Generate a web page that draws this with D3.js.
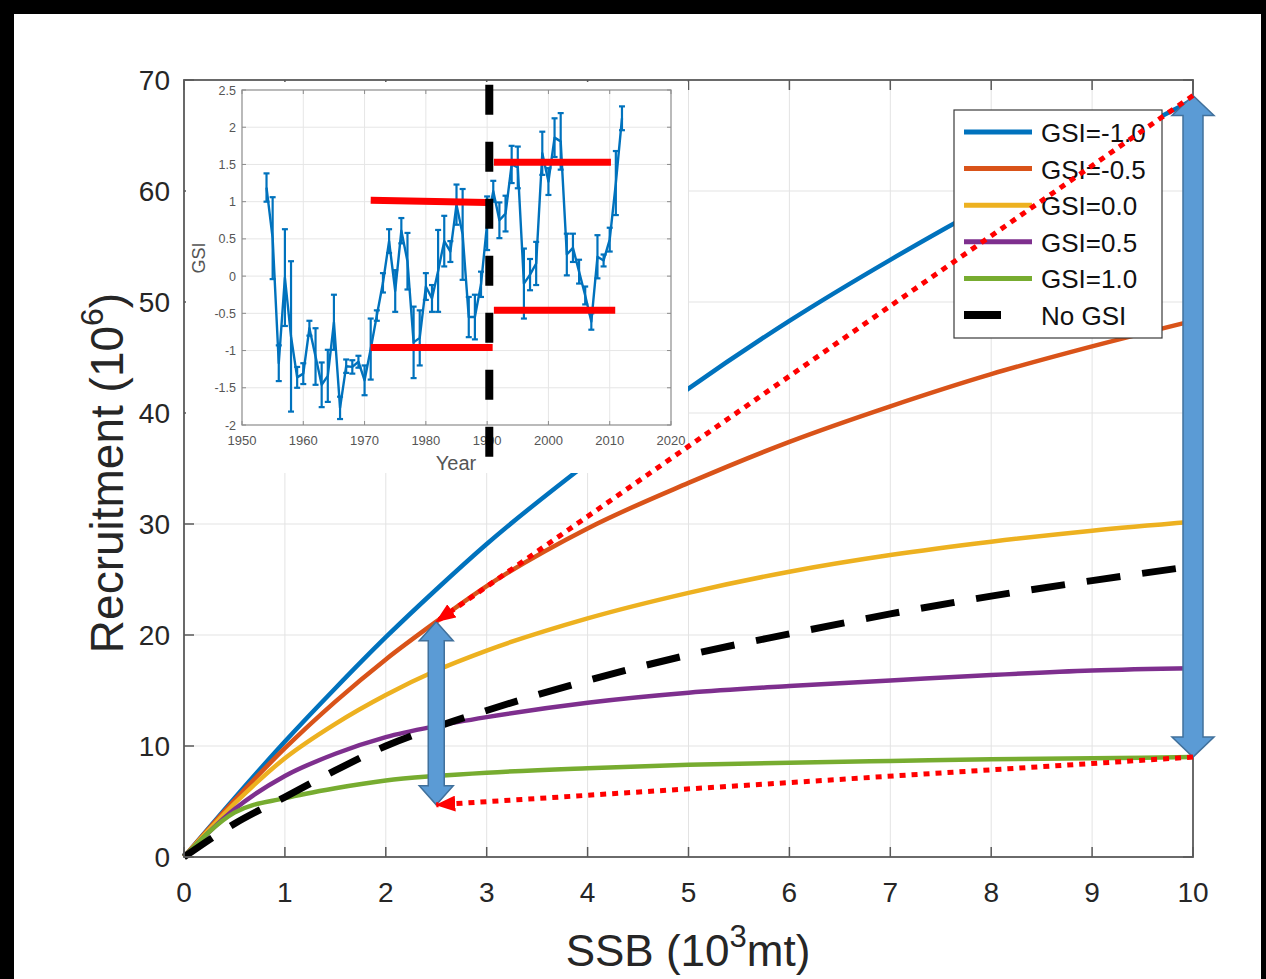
<!DOCTYPE html>
<html>
<head>
<meta charset="utf-8">
<script src="https://cdn.jsdelivr.net/npm/d3@7"></script>
<style>
  body { margin: 0; background: #000; }
  svg { display: block; font-family: "Liberation Sans", Arial, sans-serif; }
</style>
</head>
<body>
<svg id="chart" width="1266" height="979"></svg>
<script>
// main chart: recruitment vs SSB for each GSI level
const ssb = [0, 0.5, 1, 1.5, 2, 2.5, 3, 4, 5, 6, 7, 8, 9, 10];
const gsiM10 = [0, 5.3, 10.4, 15.2, 19.8, 24.1, 28.2, 35.5, 42.2, 48.3, 53.8, 58.9, 63.5, 68.2];
const gsiM05 = [0, 5.1, 9.8, 14.0, 17.8, 21.2, 24.4, 29.6, 33.7, 37.4, 40.6, 43.5, 46.0, 48.3];
const gsi00 = [0, 4.8, 8.9, 12.0, 14.6, 16.8, 18.6, 21.5, 23.8, 25.7, 27.2, 28.4, 29.4, 30.2];
const gsiP05 = [0, 4.3, 7.3, 9.3, 10.8, 11.8, 12.6, 13.9, 14.8, 15.4, 15.9, 16.4, 16.8, 17.0];
const gsiP10 = [0, 4.0, 5.3, 6.2, 6.9, 7.3, 7.6, 8.0, 8.3, 8.5, 8.65, 8.8, 8.9, 9.0];
const noGsi = [0, 3.0, 5.4, 7.8, 10.0, 11.7, 13.2, 15.9, 18.2, 20.1, 21.9, 23.5, 24.9, 26.2];

const seriesNames = ["GSI=-1.0", "GSI=-0.5", "GSI=0.0", "GSI=0.5", "GSI=1.0", "No GSI"];
const seriesColors = ["#0072BD", "#D95319", "#EDB120", "#7E2F8E", "#77AC30", "#000000"];
const seriesValues = [gsiM10, gsiM05, gsi00, gsiP05, gsiP10, noGsi];

const xTicks = [0, 1, 2, 3, 4, 5, 6, 7, 8, 9, 10];
const yTicks = [0, 10, 20, 30, 40, 50, 60, 70];

// inset: GSI time series with error bars
const gsiYears = d3.range(1954, 2013);
const gsiMean = [1.19, 0.51, -1.17, -0.02, -0.81, -1.36, -1.31, -0.70, -1.08, -1.46,
  -1.34, -0.62, -1.77, -1.21, -1.22, -1.15, -1.40, -0.98, -0.53, -0.09,
  0.47, -0.20, 0.61, 0.20, -0.89, -0.83, -0.14, -0.30, 0.07, 0.47,
  0.33, 0.96, 0.56, -0.55, -0.55, -0.11, 0.71, 1.14, 0.75, 0.84,
  1.50, 1.46, -0.10, 0.02, 0.17, 1.65, 1.27, 1.86, 1.81, 0.29,
  0.38, 0.06, -0.26, -0.61, 0.26, 0.21, 0.49, 1.25, 2.12];
const gsiErr = [0.19, 0.55, 0.24, 0.65, 1.01, 0.14, 0.14, 0.10, 0.38, 0.30,
  0.35, 0.37, 0.15, 0.09, 0.09, 0.08, 0.20, 0.41, 0.07, 0.13,
  0.16, 0.28, 0.17, 0.38, 0.48, 0.37, 0.18, 0.18, 0.55, 0.34,
  0.14, 0.27, 0.61, 0.27, 0.30, 0.17, 0.36, 0.14, 0.24, 0.24,
  0.25, 0.28, 0.47, 0.21, 0.29, 0.29, 0.18, 0.26, 0.38, 0.28,
  0.19, 0.16, 0.12, 0.11, 0.29, 0.08, 0.16, 0.43, 0.16];
const yearTicks = [1950, 1960, 1970, 1980, 1990, 2000, 2010, 2020];
const gsiTicks = [-2, -1.5, -1, -0.5, 0, 0.5, 1, 1.5, 2, 2.5];

// regime means drawn in red on the inset
const regimeLines = [
  { x0: 1971, x1: 1990, v0: 1.02, v1: 0.99 },
  { x0: 1971, x1: 1990.9, v0: -0.96, v1: -0.96 },
  { x0: 1991.1, x1: 2010.2, v0: 1.53, v1: 1.53 },
  { x0: 1991.1, x1: 2010.9, v0: -0.46, v1: -0.46 }
];
const regimeBreak = { year: 1990.35, top: 2.57, bottom: -2.6 };

// annotation arrows, in SSB / recruitment units
const rangeArrows = [
  { s: 2.5, top: 21.2, bottom: 4.7 },
  { s: 10, top: 68.6, bottom: 9.0 }
];
const redArrows = [
  { s0: 10, r0: 68.6, s1: 2.5, r1: 21.2 },
  { s0: 10, r0: 9.0, s1: 2.5, r1: 4.7 }
];

const svg = d3.select("#chart");

/* frame: black band on top, left and right */
svg.append("rect").attr("width", 1266).attr("height", 979).attr("fill", "#000");
svg.append("rect").attr("x", 14).attr("y", 14).attr("width", 1247).attr("height", 965).attr("fill", "#fff");

const x = d3.scaleLinear().domain([0, 10]).range([184, 1193]);
const y = d3.scaleLinear().domain([0, 70]).range([857, 80]);

/* grid */
const grid = svg.append("g").attr("stroke", "#e3e3e3").attr("stroke-width", 1);
grid.selectAll(".gx").data(xTicks.slice(1, -1)).enter().append("line")
  .attr("x1", d => x(d)).attr("x2", d => x(d)).attr("y1", y(0)).attr("y2", y(70));
grid.selectAll(".gy").data(yTicks.slice(1, -1)).enter().append("line")
  .attr("x1", x(0)).attr("x2", x(10)).attr("y1", d => y(d)).attr("y2", d => y(d));

/* curves */
const line = d3.line()
  .x((d, i) => x(ssb[i]))
  .y(d => y(d))
  .curve(d3.curveMonotoneX);

svg.append("g").selectAll("path").data(seriesValues).enter().append("path")
  .attr("d", line)
  .attr("fill", "none")
  .attr("stroke", (d, i) => seriesColors[i])
  .attr("stroke-width", (d, i) => i === 5 ? 7 : 4.5)
  .attr("stroke-dasharray", (d, i) => i === 5 ? "34,22" : null)
  .attr("stroke-linejoin", "round");

/* axes box with inward ticks on all four sides */
const axisColor = "#5a5a5a";
const ax = svg.append("g");
ax.append("rect").attr("x", x(0)).attr("y", y(70))
  .attr("width", x(10) - x(0)).attr("height", y(0) - y(70))
  .attr("fill", "none").attr("stroke", axisColor).attr("stroke-width", 1.8);
xTicks.forEach(t => {
  ax.append("line").attr("x1", x(t)).attr("x2", x(t)).attr("y1", y(0)).attr("y2", y(0) - 10)
    .attr("stroke", axisColor).attr("stroke-width", 1.5);
  ax.append("line").attr("x1", x(t)).attr("x2", x(t)).attr("y1", y(70)).attr("y2", y(70) + 10)
    .attr("stroke", axisColor).attr("stroke-width", 1.5);
  ax.append("text").attr("x", x(t)).attr("y", 902).attr("text-anchor", "middle")
    .attr("font-size", 28).attr("fill", "#262626").text(t);
});
yTicks.forEach(t => {
  ax.append("line").attr("x1", x(0)).attr("x2", x(0) + 10).attr("y1", y(t)).attr("y2", y(t))
    .attr("stroke", axisColor).attr("stroke-width", 1.5);
  ax.append("line").attr("x1", x(10)).attr("x2", x(10) - 10).attr("y1", y(t)).attr("y2", y(t))
    .attr("stroke", axisColor).attr("stroke-width", 1.5);
  ax.append("text").attr("x", 170).attr("y", y(t) + 10).attr("text-anchor", "end")
    .attr("font-size", 28).attr("fill", "#262626").text(t);
});

/* axis titles */
const xTitle = svg.append("text").attr("x", 688).attr("y", 966).attr("text-anchor", "middle")
  .attr("font-size", 44).attr("fill", "#262626");
xTitle.append("tspan").text("SSB (10");
xTitle.append("tspan").attr("dy", -19).attr("font-size", 31).text("3");
xTitle.append("tspan").attr("dy", 19).text("mt)");

const yTitle = svg.append("text").attr("transform", "translate(123,473) rotate(-90)")
  .attr("text-anchor", "middle").attr("font-size", 46).attr("fill", "#262626");
yTitle.append("tspan").text("Recruitment (10");
yTitle.append("tspan").attr("dy", -20).attr("font-size", 32).text("6");
yTitle.append("tspan").attr("dy", 20).text(")");

/* inset */
const xi = d3.scaleLinear().domain([1950, 2020]).range([242, 671]);
const yi = d3.scaleLinear().domain([-2, 2.5]).range([425, 90]);
const inset = svg.append("g");
inset.append("rect").attr("x", 186).attr("y", 82).attr("width", 502).attr("height", 391).attr("fill", "#fff");

const igrid = inset.append("g").attr("stroke", "#e6e6e6").attr("stroke-width", 1);
igrid.selectAll(".a").data(yearTicks.slice(1, -1)).enter().append("line")
  .attr("x1", d => xi(d)).attr("x2", d => xi(d)).attr("y1", yi(-2)).attr("y2", yi(2.5));
igrid.selectAll(".b").data(gsiTicks.slice(1, -1)).enter().append("line")
  .attr("x1", xi(1950)).attr("x2", xi(2020)).attr("y1", d => yi(d)).attr("y2", d => yi(d));

const iaxis = "#8c8c8c";
inset.append("rect").attr("x", xi(1950)).attr("y", yi(2.5))
  .attr("width", xi(2020) - xi(1950)).attr("height", yi(-2) - yi(2.5))
  .attr("fill", "none").attr("stroke", iaxis).attr("stroke-width", 1.2);
yearTicks.forEach(t => {
  inset.append("line").attr("x1", xi(t)).attr("x2", xi(t)).attr("y1", yi(-2)).attr("y2", yi(-2) - 4).attr("stroke", iaxis);
  inset.append("line").attr("x1", xi(t)).attr("x2", xi(t)).attr("y1", yi(2.5)).attr("y2", yi(2.5) + 4).attr("stroke", iaxis);
  inset.append("text").attr("x", xi(t)).attr("y", 445).attr("text-anchor", "middle")
    .attr("font-size", 13).attr("fill", "#555").text(t);
});
gsiTicks.forEach(t => {
  inset.append("line").attr("x1", xi(1950)).attr("x2", xi(1950) + 4).attr("y1", yi(t)).attr("y2", yi(t)).attr("stroke", iaxis);
  inset.append("line").attr("x1", xi(2020)).attr("x2", xi(2020) - 4).attr("y1", yi(t)).attr("y2", yi(t)).attr("stroke", iaxis);
  inset.append("text").attr("x", 236).attr("y", yi(t) + 4.5).attr("text-anchor", "end")
    .attr("font-size", 12.5).attr("fill", "#555").text(t);
});
inset.append("text").attr("x", 456).attr("y", 470).attr("text-anchor", "middle")
  .attr("font-size", 20).attr("fill", "#555").text("Year");
inset.append("text").attr("transform", "translate(205,258) rotate(-90)").attr("text-anchor", "middle")
  .attr("font-size", 18).attr("fill", "#555").text("GSI");

/* GSI line and error bars */
const gsiLine = d3.line().x((d, i) => xi(gsiYears[i])).y(d => yi(d));
inset.append("path").datum(gsiMean).attr("d", gsiLine)
  .attr("fill", "none").attr("stroke", "#0072BD").attr("stroke-width", 2.4).attr("stroke-linejoin", "round");
const bars = inset.append("g").attr("stroke", "#0072BD").attr("stroke-width", 2.2);
gsiYears.forEach((yr, i) => {
  const hi = yi(gsiMean[i] + gsiErr[i]), lo = yi(gsiMean[i] - gsiErr[i]), cx = xi(yr);
  bars.append("line").attr("x1", cx).attr("x2", cx).attr("y1", hi).attr("y2", lo);
  bars.append("line").attr("x1", cx - 3).attr("x2", cx + 3).attr("y1", hi).attr("y2", hi);
  bars.append("line").attr("x1", cx - 3).attr("x2", cx + 3).attr("y1", lo).attr("y2", lo);
});

/* regime means and break */
inset.append("g").selectAll("line").data(regimeLines).enter().append("line")
  .attr("x1", d => xi(d.x0)).attr("x2", d => xi(d.x1))
  .attr("y1", d => yi(d.v0)).attr("y2", d => yi(d.v1))
  .attr("stroke", "#ff0000").attr("stroke-width", 7);
inset.append("line")
  .attr("x1", xi(regimeBreak.year)).attr("x2", xi(regimeBreak.year))
  .attr("y1", yi(regimeBreak.top)).attr("y2", yi(regimeBreak.bottom))
  .attr("stroke", "#000").attr("stroke-width", 8).attr("stroke-dasharray", "30,27");

/* legend */
const lg = svg.append("g");
lg.append("rect").attr("x", 954).attr("y", 110).attr("width", 208).attr("height", 228)
  .attr("fill", "#fff").attr("stroke", "#3a3a3a").attr("stroke-width", 1.2);
seriesNames.forEach((name, i) => {
  const ry = 132 + i * 36.6;
  lg.append("line").attr("x1", 964).attr("x2", i === 5 ? 1001 : 1032).attr("y1", ry).attr("y2", ry)
    .attr("stroke", seriesColors[i]).attr("stroke-width", i === 5 ? 8 : 5);
  lg.append("text").attr("x", 1041).attr("y", ry + 10).attr("font-size", 26).attr("fill", "#111").text(name);
});

/* blue double-headed block arrows */
function blockArrow(cx, yt, yb, sw, hw, hl) {
  return `M${cx},${yt} L${cx + hw},${yt + hl} L${cx + sw},${yt + hl} L${cx + sw},${yb - hl} ` +
    `L${cx + hw},${yb - hl} L${cx},${yb} L${cx - hw},${yb - hl} L${cx - sw},${yb - hl} ` +
    `L${cx - sw},${yt + hl} L${cx - hw},${yt + hl} Z`;
}
svg.append("g").selectAll("path").data(rangeArrows).enter().append("path")
  .attr("d", (d, i) => i === 0
    ? blockArrow(x(d.s), y(d.top), y(d.bottom), 8, 17, 19)
    : blockArrow(x(d.s), y(d.top), y(d.bottom), 10, 21, 20))
  .attr("fill", "#5B9BD5").attr("stroke", "#41719C").attr("stroke-width", 1.5);

/* red dotted arrows */
const defs = svg.append("defs");
defs.append("marker").attr("id", "redhead").attr("viewBox", "0 -8 20 16")
  .attr("refX", 19).attr("refY", 0).attr("markerWidth", 20).attr("markerHeight", 16)
  .attr("markerUnits", "userSpaceOnUse").attr("orient", "auto")
  .append("path").attr("d", "M0,-8 L20,0 L0,8 Z").attr("fill", "#ff0000");
svg.append("g").selectAll("line").data(redArrows).enter().append("line")
  .attr("x1", d => x(d.s0)).attr("y1", d => y(d.r0))
  .attr("x2", d => x(d.s1)).attr("y2", d => y(d.r1))
  .attr("stroke", "#ff0000").attr("stroke-width", 5).attr("stroke-dasharray", "6,6")
  .attr("marker-end", "url(#redhead)");
</script>
</body>
</html>
